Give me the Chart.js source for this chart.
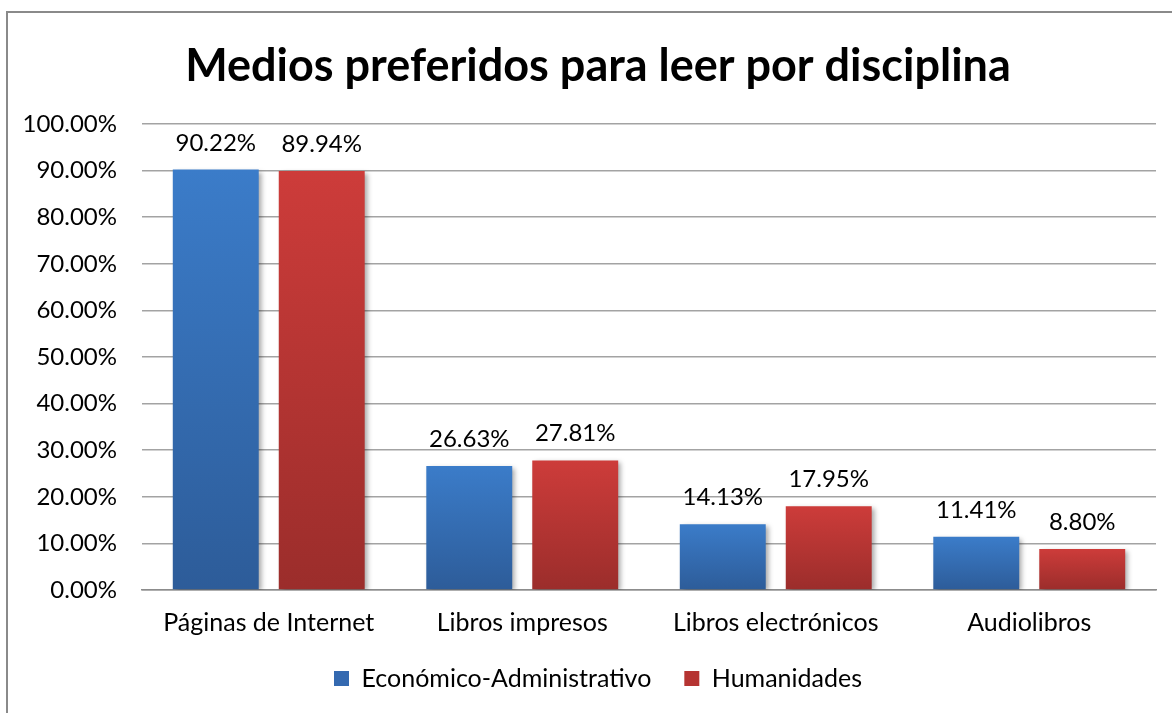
<!DOCTYPE html>
<html>
<head>
<meta charset="utf-8">
<script src="https://cdn.jsdelivr.net/npm/chart.js@4"></script>
<style>
  html, body { margin: 0; padding: 0; background: #fff; overflow: hidden; width: 1172px; height: 713px; }
  #frame { position: absolute; left: 6px; top: 11px; width: 1184px; height: 724px; border: 2px solid #8a8a8a; box-sizing: border-box; }
  #wrap { position: absolute; left: 8px; top: 13px; width: 1180px; height: 720px; }
</style>
</head>
<body>
<div id="frame"></div>
<div id="wrap"><canvas id="c" width="1180" height="720"></canvas></div>
<script>
const categories = ['Páginas de Internet', 'Libros impresos', 'Libros electrónicos', 'Audiolibros'];
const seriesNames = ['Económico-Administrativo', 'Humanidades'];
const economicoAdmin = [90.22, 26.63, 14.13, 11.41];
const humanidades = [89.94, 27.81, 17.95, 8.80];
const yTicks = [0, 10, 20, 30, 40, 50, 60, 70, 80, 90, 100];
const titleText = 'Medios preferidos para leer por disciplina';

const FONT = 'Lato, "Open Sans", sans-serif';

function gradFill(top, bottom) {
  return (ctx) => {
    const chart = ctx.chart;
    const ys = chart.scales && chart.scales.y;
    if (ctx.type !== 'data' || !ys) return bottom;
    const v = ctx.parsed ? ctx.parsed.y : ctx.raw;
    const y0 = ys.getPixelForValue(v), y1 = ys.getPixelForValue(0);
    if (!isFinite(y0) || !isFinite(y1) || y0 === y1) return top;
    const g = chart.ctx.createLinearGradient(0, y0, 0, y1);
    g.addColorStop(0, top);
    g.addColorStop(1, bottom);
    return g;
  };
}

const shadowPlugin = {
  id: 'barShadow',
  beforeDatasetDraw(chart) {
    const c = chart.ctx;
    c.save();
    c.shadowColor = 'rgba(0,0,0,0.35)';
    c.shadowBlur = 5;
    c.shadowOffsetX = 3;
    c.shadowOffsetY = 2;
  },
  afterDatasetDraw(chart) {
    chart.ctx.restore();
  }
};

const legendShiftPlugin = {
  id: 'legendShift',
  afterLayout(chart) {
    if (chart.legend) {
      chart.legend.top -= 23;
      chart.legend.bottom -= 23;
    }
  }
};

const labelPlugin = {
  id: 'valueLabels',
  afterDatasetsDraw(chart) {
    const c = chart.ctx;
    c.save();
    c.font = '24px ' + FONT;
    c.fillStyle = '#000';
    c.textAlign = 'center';
    c.textBaseline = 'alphabetic';
    chart.data.datasets.forEach((ds, i) => {
      chart.getDatasetMeta(i).data.forEach((el, j) => {
        c.fillText(ds.data[j].toFixed(2) + '%', el.x, el.y - 19);
      });
    });
    c.restore();
  }
};

const legendColors = ['#3469b0', '#b53432'];

new Chart(document.getElementById('c'), {
  type: 'bar',
  data: {
    labels: categories,
    datasets: [
      { label: seriesNames[0], data: economicoAdmin, backgroundColor: gradFill('#3b7cc9', '#2d5c99'), borderWidth: 0 },
      { label: seriesNames[1], data: humanidades, backgroundColor: gradFill('#cd3c3a', '#9b2d2b'), borderWidth: 0 }
    ]
  },
  options: {
    responsive: false,
    animation: false,
    devicePixelRatio: 1,
    categoryPercentage: 0.836,
    barPercentage: 0.811,
    layout: { padding: { left: 0, right: 0, top: 0, bottom: 9 } },
    plugins: {
      title: {
        display: true,
        text: titleText,
        color: '#000',
        font: { family: FONT, size: 45, weight: 'bold', lineHeight: 1.2 },
        padding: { top: 26, bottom: 31 }
      },
      legend: {
        position: 'bottom',
        labels: {
          color: '#000',
          font: { family: FONT, size: 25 },
          boxWidth: 15,
          boxHeight: 15,
          padding: 33,
          generateLabels(chart) {
            return chart.data.datasets.map((ds, i) => ({
              text: ds.label,
              fillStyle: legendColors[i],
              strokeStyle: legendColors[i],
              lineWidth: 0,
              hidden: false,
              datasetIndex: i
            }));
          }
        }
      },
      tooltip: { enabled: false }
    },
    scales: {
      x: {
        grid: { display: false, drawTicks: false },
        border: { display: true, color: '#8c8c8c', width: 1.5 },
        ticks: { color: '#000', font: { family: FONT, size: 25 }, padding: 18 }
      },
      y: {
        min: 0,
        max: 100,
        afterBuildTicks(scale) { scale.ticks = yTicks.map(v => ({ value: v })); },
        afterFit(scale) { scale.width = 134; },
        grid: { color: '#a3a3a3', lineWidth: 1.5, drawTicks: false },
        border: { display: false },
        ticks: {
          color: '#000',
          font: { family: FONT, size: 24 },
          padding: 25,
          callback: (v) => Number(v).toFixed(2) + '%'
        }
      },
      rightSpace: {
        type: 'linear',
        position: 'right',
        display: true,
        afterFit(scale) { scale.width = 32; },
        grid: { display: false, drawTicks: false },
        border: { display: false },
        ticks: { display: false }
      }
    }
  },
  plugins: [shadowPlugin, labelPlugin, legendShiftPlugin]
});
</script>
</body>
</html>
